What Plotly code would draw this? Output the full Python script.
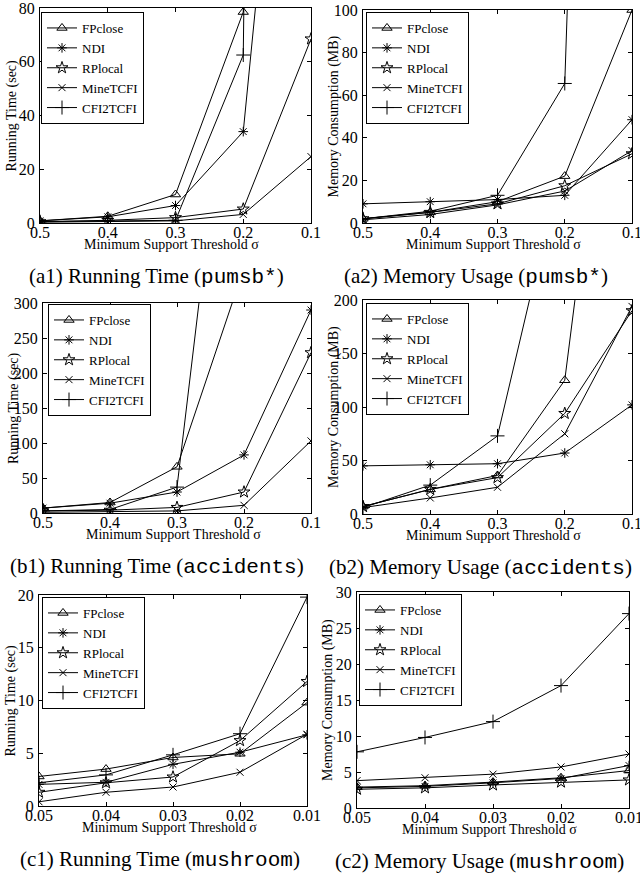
import plotly.graph_objects as go

# ---------------- data ----------------
SERIES = ["FPclose", "NDI", "RPlocal", "MineTCFI", "CFI2TCFI"]

sigma_pumsb = [0.5, 0.4, 0.3, 0.2, 0.1]
sigma_accidents = [0.5, 0.4, 0.3, 0.2, 0.1]
sigma_mushroom = [0.05, 0.04, 0.03, 0.02, 0.01]
ticks_pumsb = ["0.5", "0.4", "0.3", "0.2", "0.1"]
ticks_accidents = ["0.5", "0.4", "0.3", "0.2", "0.1"]
ticks_mushroom = ["0.05", "0.04", "0.03", "0.02", "0.01"]

time_pumsb = {
    "FPclose": [0.8, 2.5, 10.6, 78.5, 2500],
    "NDI": [0.8, 2.3, 6.5, 34, 290],
    "RPlocal": [0.5, 1.0, 2.0, 5.2, 68.5],
    "MineTCFI": [0.3, 0.5, 0.8, 3.2, 24.7],
    "CFI2TCFI": [0.5, 0.8, 1.0, 62.5, 2000],
}
mem_pumsb = {
    "FPclose": [2, 5, 10, 22, 100],
    "NDI": [9, 10, 11, 13, 48.5],
    "RPlocal": [2, 5, 9, 17.5, 32.5],
    "MineTCFI": [1.5, 4, 8.5, 15, 34],
    "CFI2TCFI": [2, 5.5, 13, 65.5, 1000],
}
time_accidents = {
    "FPclose": [7, 15, 66, 350, 2000],
    "NDI": [7, 14, 30, 83, 290],
    "RPlocal": [3, 4, 8, 30, 229],
    "MineTCFI": [1, 2, 3, 11, 103],
    "CFI2TCFI": [3, 5, 37, 840, 3000],
}
mem_accidents = {
    "FPclose": [7, 23, 36, 125, 620],
    "NDI": [45, 46, 47, 57, 102],
    "RPlocal": [7, 23, 34, 94, 190],
    "MineTCFI": [6, 15, 25, 75, 194],
    "CFI2TCFI": [6, 27, 73, 340, 1500],
}
time_mushroom = {
    "FPclose": [2.8, 3.5, 4.6, 4.95, 9.8],
    "NDI": [2.05, 2.25, 3.95, 5.1, 6.75],
    "RPlocal": [1.3, 2.2, 2.75, 6.2, 11.8],
    "MineTCFI": [0.4, 1.3, 1.8, 3.2, 6.8],
    "CFI2TCFI": [2.2, 2.95, 4.85, 6.85, 19.8],
}
mem_mushroom = {
    "FPclose": [2.9, 3.1, 3.6, 4.2, 5.2],
    "NDI": [2.8, 3.0, 3.5, 4.1, 5.9],
    "RPlocal": [2.6, 2.8, 3.2, 3.6, 3.9],
    "MineTCFI": [3.8, 4.2, 4.7, 5.7, 7.5],
    "CFI2TCFI": [7.8, 9.8, 12.0, 17.0, 27.0],
}

# ---------------- styling ----------------
W, H = 640, 877
SERIF = "Liberation Serif, Times New Roman, serif"
MONO = "Liberation Mono"
SYM = {
    "FPclose": ("triangle-up-open", 9),
    "NDI": ("asterisk-open", 8),
    "RPlocal": ("star-open", 9),
    "MineTCFI": ("x-thin-open", 7),
    "CFI2TCFI": ("cross-thin-open", 10),
}

panels = [
    dict(d=time_pumsb, x=sigma_pumsb, tt=ticks_pumsb, yr=[0, 80], dt=20,
         box=(40, 8, 311, 223), yt="Running Time (sec)",
         cap=("(a1) Running Time (", "pumsb*", ")"), capx=156, leg=(41, 12)),
    dict(d=mem_pumsb, x=sigma_pumsb, tt=ticks_pumsb, yr=[0, 100], dt=20,
         box=(363, 10, 632, 223), yt="Memory Consumption (MB)",
         cap=("(a2) Memory Usage (", "pumsb*", ")"), capx=476, leg=(366, 12)),
    dict(d=time_accidents, x=sigma_accidents, tt=ticks_accidents, yr=[0, 300], dt=50,
         box=(43, 303, 311, 513), yt="Running Time (sec)",
         cap=("(b1) Running Time (", "accidents", ")"), capx=157, leg=(48, 304)),
    dict(d=mem_accidents, x=sigma_accidents, tt=ticks_accidents, yr=[0, 200], dt=50,
         box=(363, 300, 632, 514), yt="Memory Consumption (MB)",
         cap=("(b2) Memory Usage (", "accidents", ")"), capx=480, leg=(366, 303)),
    dict(d=time_mushroom, x=sigma_mushroom, tt=ticks_mushroom, yr=[0, 20], dt=5,
         box=(39, 595, 307, 806), yt="Running Time (sec)",
         cap=("(c1) Running Time (", "mushroom", ")"), capx=160, leg=(42, 597)),
    dict(d=mem_mushroom, x=sigma_mushroom, tt=ticks_mushroom, yr=[0, 30], dt=5,
         box=(357, 592, 629, 808), yt="Memory Consumption (MB)",
         cap=("(c2) Memory Usage (", "mushroom", ")"), capx=479, leg=(359, 594)),
]

fig = go.Figure()
layout = dict(width=W, height=H, margin=dict(l=0, r=0, t=0, b=0),
              paper_bgcolor="white", plot_bgcolor="white",
              font=dict(family=SERIF, color="black"), annotations=[])

for i, p in enumerate(panels, start=1):
    sx = "" if i == 1 else str(i)
    leg = "legend" if i == 1 else f"legend{i}"
    for name in SERIES:
        sym, size = SYM[name]
        fig.add_trace(go.Scatter(
            x=p["x"], y=p["d"][name], name=name, mode="lines+markers",
            xaxis="x" + sx, yaxis="y" + sx, legend=leg,
            line=dict(color="black", width=1),
            marker=dict(symbol=sym, size=size, color="black",
                        line=dict(color="black", width=1)),
        ))
    l, t, r, b = p["box"]
    axcommon = dict(showline=True, linecolor="black", linewidth=1, mirror="ticks",
                    ticks="inside", ticklen=4, tickcolor="black", showgrid=False,
                    zeroline=False, automargin=False, ticklabeloverflow="allow",
                    tickfont=dict(family=SERIF, size=16, color="black"))
    layout["xaxis" + sx] = dict(domain=[l / W, r / W], anchor="y" + sx,
                                range=[p["x"][0], p["x"][-1]], tickmode="array",
                                tickvals=p["x"], ticktext=p["tt"], ticklabelstandoff=-5,
                                **axcommon)
    layout["yaxis" + sx] = dict(domain=[1 - b / H, 1 - t / H], anchor="x" + sx,
                                range=p["yr"], dtick=p["dt"], tick0=0, ticklabelstandoff=1,
                                **axcommon)
    layout[leg] = dict(x=p["leg"][0] / W, y=1 - p["leg"][1] / H, xanchor="left", yanchor="top",
                       bgcolor="white", bordercolor="black", borderwidth=1,
                       font=dict(family=SERIF, size=13, color="black"),
                       tracegroupgap=0, itemwidth=30)
    cx = (l + r) / 2 - 4
    layout["annotations"].append(dict(
        text="Minimum Support Threshold σ", x=cx / W, y=1 - (b + 21) / H,
        xref="paper", yref="paper", showarrow=False, xanchor="center", yanchor="middle",
        font=dict(family=SERIF, size=14, color="black")))
    layout["annotations"].append(dict(
        text=p["yt"], x=(l - 29) / W, y=1 - ((t + b) / 2) / H, textangle=-90,
        xref="paper", yref="paper", showarrow=False, xanchor="center", yanchor="middle",
        font=dict(family=SERIF, size=14, color="black")))
    capy = b + 53
    a, m, z = p["cap"]
    layout["annotations"].append(dict(
        text=f"{a}<span style='font-family:{MONO}'>{m}</span>{z}",
        x=p["capx"] / W, y=1 - capy / H, xref="paper", yref="paper", showarrow=False,
        xanchor="center", yanchor="middle",
        font=dict(family=SERIF, size=21, color="black")))

fig.update_layout(**layout)
fig.write_html(
    "out.html",
    config={"displayModeBar": False},
    post_script="document.body.style.margin='0';document.body.style.overflow='hidden';",
)
